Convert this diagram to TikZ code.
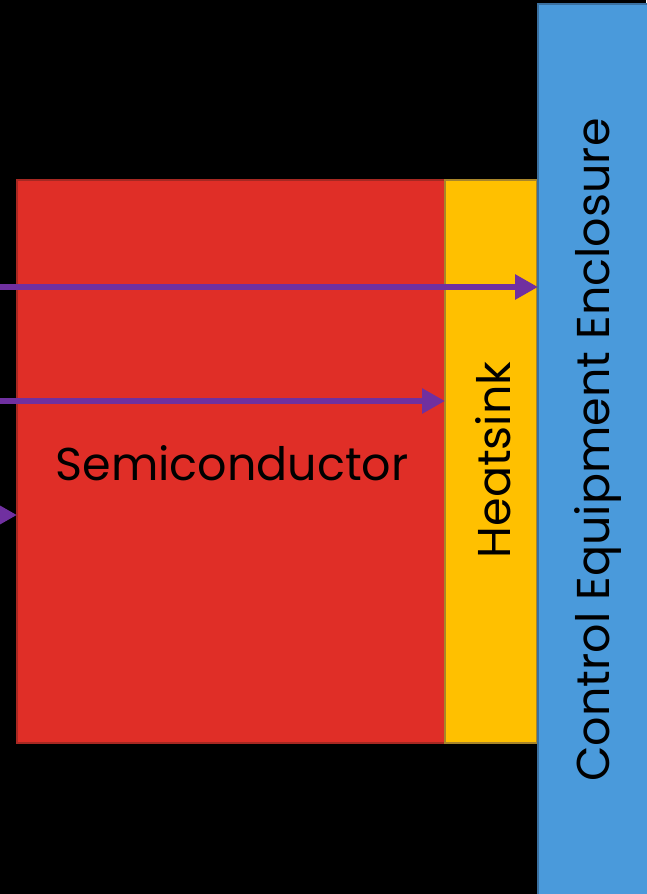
\documentclass[tikz,border=0pt]{standalone}
\usepackage{fontspec}
\setmainfont{Poppins}
\usetikzlibrary{arrows.meta}
\definecolor{semired}{HTML}{E02E27}
\definecolor{semiredb}{HTML}{A62822}
\definecolor{heatyel}{HTML}{FFC000}
\definecolor{heatyelb}{HTML}{A8852A}
\definecolor{encblue}{HTML}{4A9ADB}
\definecolor{encblueb}{HTML}{3A70A0}
\definecolor{flowpurple}{HTML}{7030A0}
\begin{document}
\begin{tikzpicture}[x=1pt,y=1pt,
  block/.style={draw, line width=1.5pt, inner sep=0pt, outer sep=0pt, anchor=south west},
  flow/.style={draw=flowpurple, line width=6.5pt, -{Triangle[length=23pt,width=24pt]}},
  lbl/.style={font=\fontsize{46}{46}\selectfont, text=black}]
\fill[black] (0,0) rectangle (646,894);
\useasboundingbox (0,0) rectangle (646,894);
\node[block, fill=semired, draw=semiredb, minimum width=428pt, minimum height=563pt] (semi) at (17,151) {};
\node[block, fill=heatyel, draw=heatyelb, minimum width=92pt, minimum height=563pt] (heat) at (445,151) {};
\node[block, fill=encblue, draw=encblueb, minimum width=130pt, minimum height=910pt] (encl) at (538,-20) {};
\node[lbl] (semitext) at (232,431) {Semiconductor};
\node[lbl, rotate=90] (heattext) at (493,434) {Heatsink};
\node[lbl, rotate=90] (encltext) at (598,444) {Control Equipment Enclosure};
\coordinate (s1) at (-10,607);
\coordinate (s2) at (-10,493);
\coordinate (s3) at (-40,379);
\draw[flow] (s1) -- (s1 -| encl.west);
\draw[flow] (s2) -- (s2 -| heat.west);
\draw[flow] (s3) -- (s3 -| semi.west);
\end{tikzpicture}
\end{document}
